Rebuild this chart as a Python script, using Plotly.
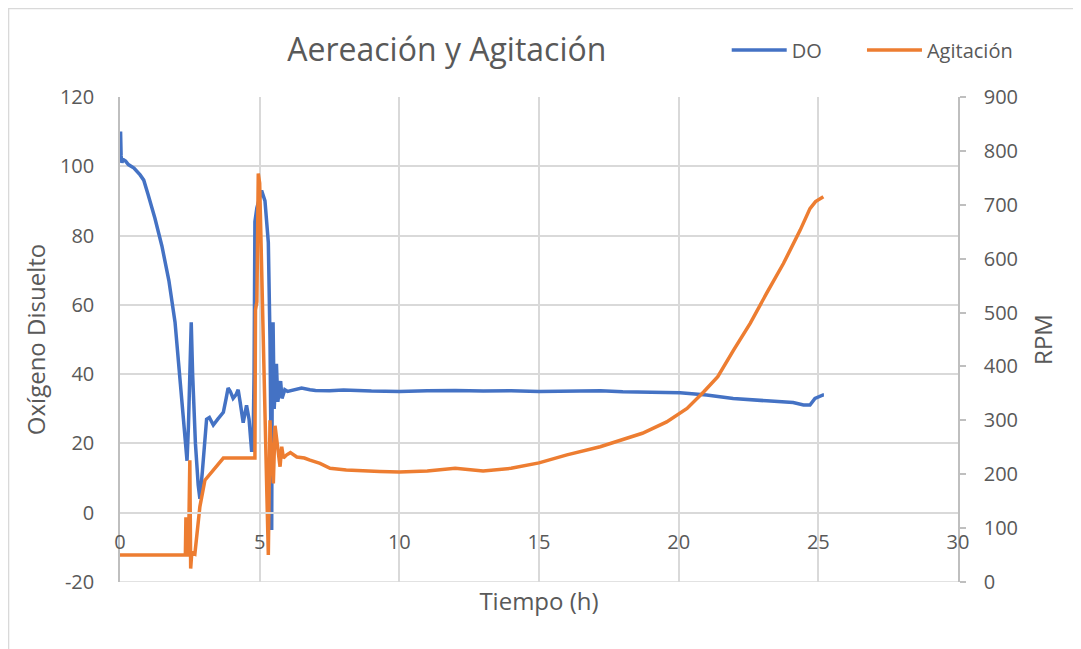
import plotly.graph_objects as go

BLUE = "#4472C4"
ORANGE = "#ED7D31"
GRID = "#D9D9D9"
AXIS = "#BFBFBF"
TEXT = "#595959"
FONT = "Open Sans, Arial, sans-serif"

# Oxígeno disuelto (%), eje izquierdo
do_t = [0, 0.02, 0.04, 0.07, 0.1, 0.2, 0.3, 0.5, 0.72, 0.85, 1.0, 1.25, 1.5, 1.75,
        1.97, 2.1, 2.2, 2.3, 2.4, 2.45, 2.5, 2.55, 2.6, 2.7, 2.8, 2.86, 2.95, 3.1,
        3.2, 3.34, 3.5, 3.7, 3.8, 3.87, 3.95, 4.05, 4.15, 4.23, 4.3, 4.41, 4.53,
        4.62, 4.71, 4.76, 4.8, 4.83, 4.9, 5.0, 5.07, 5.19, 5.31, 5.37, 5.43, 5.45,
        5.48, 5.52, 5.6, 5.65, 5.75, 5.8, 5.9, 6.0, 6.2, 6.5, 6.8, 7.0, 7.5, 8.0,
        9.0, 10.0, 11.0, 12.0, 13.0, 14.0, 15.0, 16.0, 17.2, 18.0, 19.0, 20.05,
        21.0, 21.95, 23.15, 24.1, 24.47, 24.7, 24.88, 25.0, 25.17, 25.2]
do_val = [105, 110, 103, 101, 102, 101.5, 100.5, 99.5, 97.5, 96, 92, 85, 77, 67,
          55, 42, 32, 22, 15, 25, 45, 55, 40, 20, 8, 4, 12, 27,
          27.5, 25.3, 27, 29, 33, 36, 35, 33, 34, 35.5, 32, 26, 31,
          27, 18, 18, 40, 84, 88, 91, 93, 90, 78, 50, -5, 40,
          55, 30, 43, 32, 38, 33, 35.5, 35, 35.5, 36, 35.5, 35.3, 35.2, 35.4,
          35.1, 35.0, 35.2, 35.3, 35.1, 35.2, 35.0, 35.0, 35.2, 34.9, 34.8, 34.6,
          34.0, 33.0, 32.3, 31.8, 31.1, 31.1, 33.0, 33.5, 34.0, 34.0]

# Agitación (RPM), eje derecho
rpm_t = [0, 1.0, 2.3, 2.34, 2.36, 2.38, 2.45, 2.47, 2.5, 2.53, 2.57, 2.68, 2.86,
         3.04, 3.33, 3.7, 4.83, 4.85, 4.9, 4.95, 5.0, 5.07, 5.15, 5.25, 5.31,
         5.37, 5.42, 5.49, 5.55, 5.6, 5.67, 5.73, 5.79, 5.85, 5.97, 6.1, 6.33,
         6.6, 6.8, 7.16, 7.52, 8.1, 9.3, 10.0, 11.0, 12.0, 13.0, 14.0, 15.0,
         16.0, 17.19, 17.9, 18.7, 19.57, 20.3, 20.9, 21.4, 21.96, 22.56, 23.15,
         23.75, 24.35, 24.7, 24.9, 25.18]
rpm_val = [50, 50, 50, 50, 120, 50, 50, 226, 226, 25, 55, 52, 140,
           189, 208, 230, 230, 505, 520, 758, 740, 600, 420, 180, 50,
           300, 240, 183, 290, 270, 230, 214, 251, 230, 236, 240, 232,
           230, 226, 220, 211, 208, 205, 204, 206, 211, 206, 211, 221,
           236, 251, 263, 276, 297, 322, 353, 381, 430, 480, 536,
           591, 653, 693, 706, 715]

do_ticks = [-20, 0, 20, 40, 60, 80, 100, 120]
do_ticktext = ["-20", "0", "20", "40", "60", "80", "100", "120"]

fig = go.Figure()
fig.add_trace(go.Scatter(x=do_t, y=do_val, name="DO", mode="lines",
                         line=dict(color=BLUE, width=3.5), legend="legend"))
fig.add_trace(go.Scatter(x=rpm_t, y=rpm_val, name="Agitación", mode="lines",
                         line=dict(color=ORANGE, width=3.5), yaxis="y2",
                         legend="legend2"))

legend_style = dict(orientation="h", y=1.097, yanchor="middle", xanchor="left",
                    font=dict(size=20), bgcolor="rgba(0,0,0,0)", itemwidth=55)

# la página tiene 8 px de margen en body: la figura se reduce en esa medida
fig.update_layout(
    width=1073, height=641,
    paper_bgcolor="white", plot_bgcolor="white",
    font=dict(family=FONT, color=TEXT, size=20),
    margin=dict(l=112, r=123, t=89, b=67, autoexpand=False),
    title=dict(text="Aereación y Agitación", font=dict(size=32, color=TEXT),
               x=0.39, xref="paper", xanchor="center", y=0.9345, yanchor="middle"),
    legend=dict(x=0.724, **legend_style),
    legend2=dict(x=0.8854, **legend_style),
    showlegend=True,
    xaxis=dict(range=[0, 30], dtick=5, showgrid=True, gridcolor=GRID, gridwidth=1.5,
               zeroline=False, showline=True, linecolor=GRID, linewidth=1.5,
               anchor="free", position=20 / 140, ticks="", ticklabelstandoff=12,
               automargin=False,
               title=dict(text="Tiempo (h)", standoff=38)),
    yaxis=dict(range=[-20, 120], tickvals=do_ticks, ticktext=do_ticktext,
               showgrid=True, gridcolor=GRID, gridwidth=1.5,
               zeroline=False, showline=True, linecolor=AXIS, linewidth=1.5,
               ticks="", ticklabelstandoff=20, automargin=False,
               title=dict(text="Oxígeno Disuelto", standoff=8)),
    yaxis2=dict(range=[0, 900], dtick=100, overlaying="y", side="right", showgrid=False,
                zeroline=False, showline=True, linecolor=AXIS, linewidth=1.5,
                ticks="outside", ticklen=6, tickcolor=AXIS, tickwidth=1.5,
                ticklabelstandoff=14, automargin=False,
                title=dict(text="RPM", standoff=18)),
)

# línea inferior del área de trazado (cuadrícula en -20)
fig.add_shape(type="line", xref="paper", yref="y", x0=0, x1=1, y0=-20, y1=-20,
              line=dict(color=GRID, width=1.5), layer="below")

# borde del área del gráfico (estilo Excel)
fig.add_shape(type="rect", xref="paper", yref="paper",
              x0=-0.1330, x1=1.3, y0=-0.3, y1=1.1825,
              line=dict(color=GRID, width=1.5), layer="below")

fig.write_html("out.html")
